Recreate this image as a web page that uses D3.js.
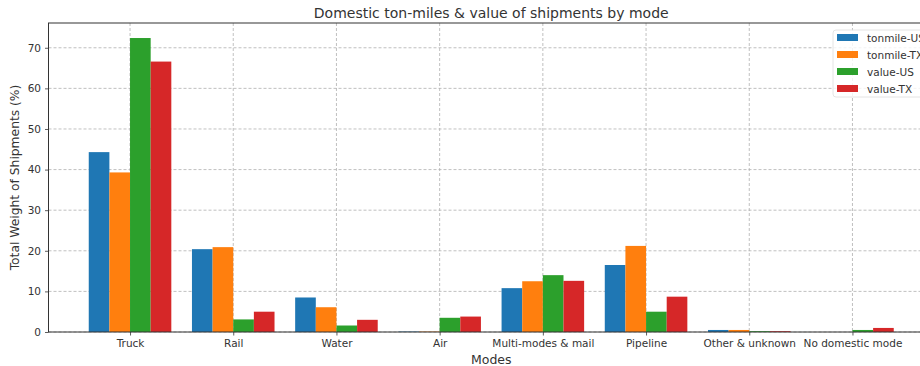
<!DOCTYPE html>
<html><head><meta charset="utf-8">
<script src="https://cdn.jsdelivr.net/npm/d3@7"></script>
<style>
html,body{margin:0;padding:0;background:#fff;overflow:hidden;}
text{font-family:"DejaVu Sans",sans-serif;fill:#333;}
</style></head>
<body><svg id="c" width="920" height="366"></svg>
<script>
const categories = ["Truck","Rail","Water","Air","Multi-modes & mail","Pipeline","Other & unknown","No domestic mode"];
const seriesNames = ["tonmile-US","tonmile-TX","value-US","value-TX"];
const tonmileUS = [44.3, 20.4, 8.5, 0.1, 10.8, 16.5, 0.5, 0.0];
const tonmileTX = [39.3, 20.9, 6.1, 0.1, 12.5, 21.2, 0.5, 0.0];
const valueUS   = [72.4, 3.1, 1.6, 3.5, 14.0, 5.0, 0.2, 0.5];
const valueTX   = [66.6, 5.0, 3.0, 3.8, 12.6, 8.7, 0.2, 1.0];
const yTicks = [0,10,20,30,40,50,60,70];
const colors = ["#1f77b4","#ff7f0e","#2ca02c","#d62728"];
const series = [tonmileUS, tonmileTX, valueUS, valueTX];

const svg = d3.select("#c");
const L = 48.5, R = 934, T = 23, B = 332;
const x = d3.scaleLinear().domain([-0.79, categories.length - 1 + 0.79]).range([L, R]);
const y = d3.scaleLinear().domain([0, 76.1]).range([B, T]);
const bw = 0.2;

// grid
const g = svg.append("g");
g.selectAll(".gy").data(yTicks).join("line")
  .attr("x1", L).attr("x2", R).attr("y1", d => y(d)).attr("y2", d => y(d))
  .attr("stroke", "#b0b0b0").attr("stroke-width", 0.8).attr("stroke-dasharray", "3,2");
g.selectAll(".gx").data(categories).join("line")
  .attr("x1", (d,i) => x(i)).attr("x2", (d,i) => x(i)).attr("y1", T).attr("y2", B)
  .attr("stroke", "#b0b0b0").attr("stroke-width", 0.8).attr("stroke-dasharray", "3,2");

// bars
series.forEach((vals, s) => {
  svg.append("g").selectAll("rect").data(vals).join("rect")
    .attr("x", (d,i) => x(i - 0.4 + s*bw))
    .attr("width", x(bw) - x(0))
    .attr("y", d => y(d))
    .attr("height", d => B - y(d))
    .attr("fill", colors[s]);
});

// axes
const xAxis = d3.axisBottom(x).tickValues(d3.range(categories.length)).tickFormat(i => categories[i]).tickSize(3.5).tickPadding(4);
const ax = svg.append("g").attr("transform", `translate(0,${B})`).call(xAxis);
ax.select(".domain").remove();
const yAxis = d3.axisLeft(y).tickValues(yTicks).tickSize(3.5).tickPadding(4);
const ay = svg.append("g").attr("transform", `translate(${L},0)`).call(yAxis);
ay.select(".domain").remove();
[ax, ay].forEach(a => {
  a.selectAll("text").attr("font-size", 10.5).attr("font-family", "DejaVu Sans").attr("fill", "#333");
  a.selectAll("line").attr("stroke", "#333").attr("stroke-width", 0.8);
});

// spines
svg.append("rect").attr("x", L).attr("y", T).attr("width", R - L).attr("height", B - T)
  .attr("fill", "none").attr("stroke", "#333").attr("stroke-width", 1);

// title & labels
svg.append("text").attr("x", (L+R)/2).attr("y", 18).attr("text-anchor", "middle")
  .attr("font-size", 14).text("Domestic ton-miles & value of shipments by mode");
svg.append("text").attr("x", (L+R)/2).attr("y", 364).attr("text-anchor", "middle")
  .attr("font-size", 12.5).text("Modes");
svg.append("text").attr("transform", `translate(18.5,${(T+B)/2}) rotate(-90)`).attr("text-anchor", "middle")
  .attr("font-size", 12.3).text("Total Weight of Shipments (%)");

// legend
const lg = svg.append("g");
lg.append("rect").attr("x", 833).attr("y", 30).attr("width", 100).attr("height", 67).attr("rx", 3)
  .attr("fill", "#fff").attr("fill-opacity", 0.8).attr("stroke", "#ddd").attr("stroke-width", 0.8);
seriesNames.forEach((n, i) => {
  const yy = 37.5 + i * 17;
  lg.append("rect").attr("x", 837).attr("y", yy - 3.5).attr("width", 21).attr("height", 7).attr("fill", colors[i]);
  lg.append("text").attr("x", 867).attr("y", yy + 4).attr("font-size", 10.5).text(n);
});
</script></body></html>
